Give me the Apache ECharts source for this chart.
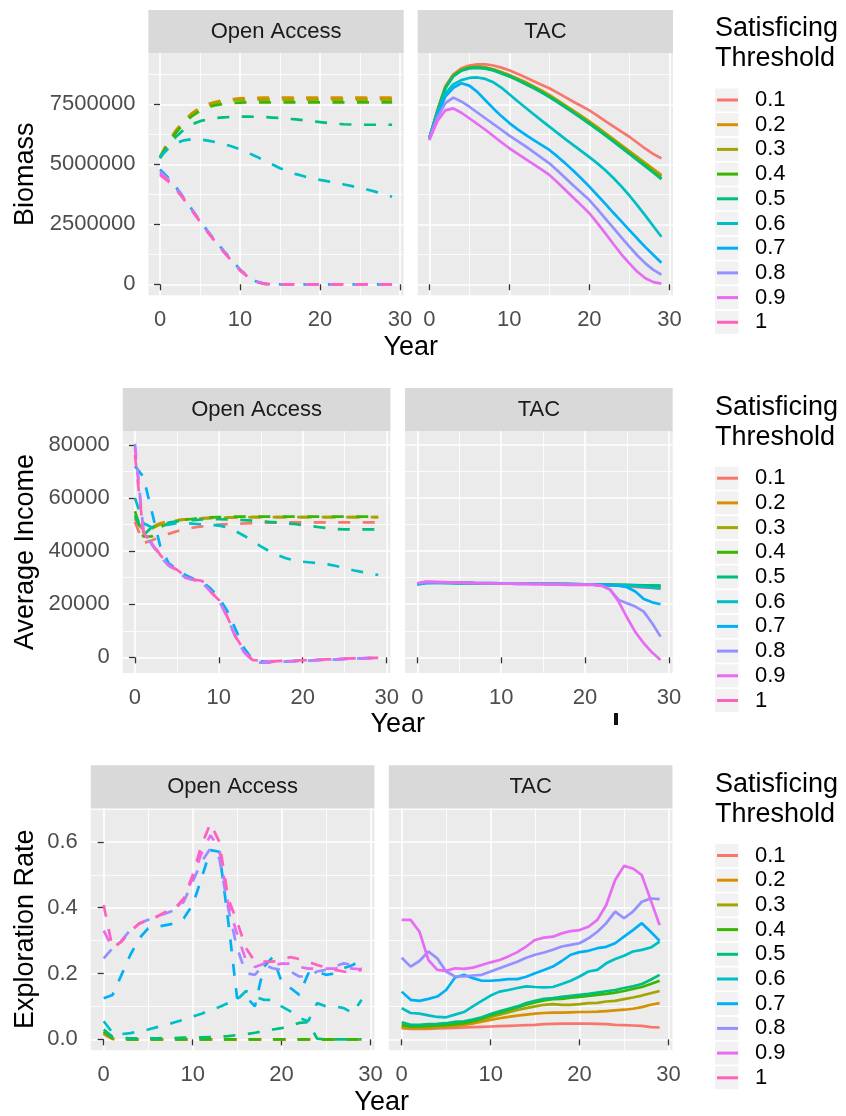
<!DOCTYPE html>
<html>
<head>
<meta charset="utf-8">
<script src="https://cdn.jsdelivr.net/npm/echarts@6/dist/echarts.min.js"></script>
<style>
html,body{margin:0;padding:0;background:#ffffff;}
#chart{width:846px;height:1116px;}
</style>
</head>
<body>
<div id="chart"></div>
<script>
// ---------------- DATA ----------------
const years = [0,1,2,3,4,5,6,7,8,9,10,11,12,13,14,15,16,17,18,19,20,21,22,23,24,25,26,27,28,29];
const thresholds = ['0.1','0.2','0.3','0.4','0.5','0.6','0.7','0.8','0.9','1'];
const facetNames = ['Open Access','TAC'];
const xTicks = [0,10,20,30];
const xMinorTicks = [5,15,25];
const biomassTicks = [0,2500000,5000000,7500000];
const biomassMinorTicks = [1250000,3750000,6250000,8750000];
const incomeTicks = [0,20000,40000,60000,80000];
const incomeMinorTicks = [10000,30000,50000,70000];
const explorationTicks = [0,0.2,0.4,0.6];
const explorationMinorTicks = [0.1,0.3,0.5,0.7];

// Biomass, Open Access (dashed), one row per threshold 0.1 .. 1
const biomassOpenAccess = [
 [5300000,5900000,6400000,6800000,7100000,7320000,7470000,7570000,7640000,7680000,7710000,7720000,7730000,7740000,7740000,7750000,7750000,7750000,7750000,7750000,7750000,7750000,7750000,7750000,7750000,7750000,7750000,7750000,7750000,7750000],
 [5320000,5920000,6420000,6820000,7130000,7360000,7510000,7610000,7680000,7720000,7750000,7760000,7770000,7780000,7780000,7780000,7780000,7780000,7780000,7780000,7780000,7780000,7780000,7780000,7780000,7780000,7780000,7780000,7780000,7780000],
 [5300000,5880000,6370000,6770000,7080000,7310000,7460000,7560000,7620000,7660000,7680000,7690000,7700000,7700000,7700000,7700000,7700000,7700000,7700000,7700000,7700000,7700000,7700000,7700000,7700000,7700000,7700000,7700000,7700000,7700000],
 [5280000,5850000,6320000,6710000,7010000,7230000,7380000,7470000,7520000,7550000,7570000,7580000,7580000,7580000,7580000,7580000,7580000,7580000,7580000,7580000,7580000,7580000,7580000,7580000,7580000,7580000,7580000,7580000,7580000,7580000],
 [5250000,5750000,6150000,6450000,6670000,6800000,6880000,6930000,6960000,6980000,6990000,6990000,6980000,6970000,6950000,6930000,6900000,6870000,6840000,6800000,6760000,6720000,6690000,6670000,6660000,6650000,6650000,6650000,6650000,6650000],
 [5300000,5650000,5880000,6000000,6050000,6040000,5990000,5920000,5840000,5740000,5620000,5480000,5330000,5170000,5000000,4840000,4700000,4590000,4500000,4420000,4350000,4290000,4230000,4160000,4090000,4020000,3940000,3850000,3750000,3650000],
 [4790000,4450000,4050000,3600000,3120000,2650000,2200000,1780000,1380000,1000000,620000,330000,120000,30000,10000,0,0,0,0,0,0,0,0,0,0,0,0,0,0,0],
 [4700000,4400000,4010000,3570000,3100000,2630000,2180000,1760000,1360000,980000,600000,310000,110000,25000,5000,0,0,0,0,0,0,0,0,0,0,0,0,0,0,0],
 [4620000,4350000,3980000,3550000,3080000,2610000,2160000,1740000,1340000,960000,590000,300000,100000,20000,0,0,0,0,0,0,0,0,0,0,0,0,0,0,0,0],
 [4560000,4300000,3950000,3530000,3070000,2600000,2150000,1730000,1330000,950000,580000,300000,100000,20000,0,0,0,0,0,0,0,0,0,0,0,0,0,0,0,0]
];
// Biomass, TAC (solid); threshold 1 not drawn in this facet
const biomassTAC = [
 [6080000,7250000,8250000,8750000,9000000,9120000,9170000,9170000,9120000,9030000,8920000,8780000,8630000,8470000,8320000,8170000,7990000,7800000,7610000,7430000,7250000,7030000,6800000,6580000,6360000,6150000,5900000,5650000,5430000,5250000],
 [6080000,7210000,8210000,8710000,8950000,9050000,9070000,9040000,8960000,8850000,8720000,8580000,8430000,8260000,8080000,7890000,7680000,7460000,7240000,7020000,6790000,6550000,6300000,6050000,5800000,5550000,5300000,5050000,4800000,4550000],
 [6080000,7200000,8200000,8700000,8940000,9040000,9060000,9030000,8950000,8840000,8710000,8560000,8410000,8240000,8060000,7860000,7650000,7430000,7210000,6990000,6760000,6520000,6270000,6020000,5770000,5520000,5270000,5020000,4770000,4500000],
 [6080000,7190000,8190000,8690000,8920000,9020000,9040000,9010000,8930000,8810000,8680000,8530000,8370000,8200000,8020000,7820000,7610000,7390000,7170000,6940000,6710000,6470000,6220000,5970000,5720000,5460000,5200000,4940000,4680000,4420000],
 [6080000,7180000,8170000,8670000,8900000,9000000,9020000,8990000,8910000,8790000,8660000,8510000,8350000,8180000,8000000,7800000,7590000,7370000,7150000,6920000,6690000,6450000,6200000,5950000,5690000,5430000,5170000,4910000,4650000,4380000],
 [6080000,7150000,7950000,8330000,8510000,8600000,8620000,8560000,8420000,8200000,7920000,7640000,7370000,7100000,6830000,6570000,6310000,6050000,5800000,5550000,5300000,5040000,4750000,4430000,4080000,3700000,3290000,2860000,2420000,1980000],
 [6080000,7060000,7820000,8190000,8380000,8280000,8020000,7670000,7330000,7010000,6720000,6470000,6240000,6020000,5810000,5600000,5330000,5040000,4730000,4410000,4070000,3710000,3350000,2980000,2620000,2260000,1900000,1550000,1220000,900000],
 [6080000,6950000,7550000,7780000,7620000,7400000,7160000,6920000,6680000,6440000,6200000,5980000,5760000,5520000,5280000,5040000,4740000,4430000,4120000,3820000,3510000,3130000,2740000,2350000,1960000,1570000,1200000,870000,600000,400000],
 [6000000,6800000,7250000,7330000,7150000,6920000,6680000,6440000,6180000,5920000,5670000,5450000,5230000,5010000,4790000,4560000,4250000,3930000,3610000,3290000,2960000,2550000,2120000,1680000,1250000,870000,520000,250000,90000,30000],
 null
];
// Average Income, Open Access (dashed)
const incomeOpenAccess = [
 [51000,43000,44000,45500,46500,47500,48200,48900,49300,49700,50000,50200,50300,50400,50500,50600,50700,50700,50800,50800,50800,50800,50800,50800,50800,50800,50800,50800,50800,50800],
 [52000,48000,49000,50500,51200,51700,52000,52200,52400,52500,52600,52700,52700,52800,52800,52800,52800,52800,52800,52800,52800,52800,52800,52800,52800,52800,52800,52800,52800,52800],
 [52500,47500,48500,50000,51000,51500,51900,52100,52300,52400,52500,52600,52700,52700,52800,52800,52800,52800,52800,52800,52800,52800,52800,52800,52800,52800,52800,52800,52800,52800],
 [55000,45500,45500,49000,50500,51300,51800,52200,52500,52700,52800,52900,53000,53000,53000,53000,53000,53000,53000,53000,53000,53000,53000,53000,53000,53000,53000,53000,53000,53000],
 [53500,46000,49000,50000,50700,51200,51500,51700,51900,52000,52000,51900,51800,51700,51500,51300,51000,50800,50500,50200,49800,49400,49000,48600,48300,48200,48200,48200,48200,48200],
 [60000,50500,49000,49500,50000,50500,50500,50300,50100,49900,49600,49000,47500,45800,43800,41800,40000,38500,37300,36500,36000,35700,35400,35000,34400,33600,32800,32200,31600,31000],
 [72000,68000,55000,42000,35500,33000,31000,29500,28500,26000,22500,17500,10500,3500,-800,-1500,-1700,-1600,-1500,-1400,-1300,-1200,-1000,-900,-800,-600,-500,-400,-300,-250],
 [80400,48000,42500,38000,34500,32500,30000,29000,28000,25000,21500,15000,7500,2000,-1500,-2000,-2000,-1800,-1600,-1400,-1300,-1200,-1000,-900,-800,-600,-500,-400,-300,-300],
 [79000,47500,43000,38300,34700,32700,30200,29100,28300,24800,21600,15200,7600,2200,-1200,-1600,-1700,-1600,-1500,-1400,-1300,-1200,-1000,-900,-800,-600,-500,-400,-300,-250],
 [76200,47000,43200,38600,34800,33000,30500,29300,28800,24700,21600,15400,7800,2700,-1000,-1300,-1500,-1400,-1300,-1200,-1100,-1000,-900,-800,-700,-500,-400,-300,-250,-200]
];
// Average Income, TAC (solid)
const incomeTAC = [
 [27700,28200,28200,28100,28100,28000,28000,27900,27900,27900,27800,27800,27800,27700,27700,27700,27600,27600,27500,27500,27400,27400,27300,27200,27000,26800,26500,26300,26100,25900],
 [27700,28200,28200,28100,28100,28000,28000,27900,27900,27900,27800,27800,27800,27700,27700,27700,27600,27600,27500,27500,27400,27400,27300,27200,27100,27000,26900,26800,26700,26600],
 [27700,28200,28200,28100,28100,28000,28000,27900,27900,27900,27800,27800,27800,27700,27700,27700,27600,27600,27500,27500,27400,27400,27300,27300,27200,27100,27000,26900,26800,26700],
 [27600,28100,28100,28100,28000,28000,28000,27900,27900,27900,27800,27800,27800,27800,27700,27700,27700,27600,27600,27500,27500,27400,27400,27300,27300,27200,27100,27000,27000,26900],
 [27600,28100,28100,28100,28000,28000,28000,27900,27900,27900,27800,27800,27800,27800,27700,27700,27700,27600,27600,27600,27500,27500,27400,27400,27300,27300,27200,27100,27100,27000],
 [27500,28000,28000,28000,28000,27900,27900,27900,27900,27800,27800,27800,27800,27700,27700,27700,27600,27600,27600,27500,27500,27400,27300,27200,27100,27000,26800,26500,26200,26000],
 [27500,27900,28000,28000,28000,27900,27900,27900,27900,27800,27800,27800,27800,27700,27700,27700,27600,27600,27600,27500,27500,27400,27300,27200,27000,26400,24800,22000,20700,20000],
 [27800,28300,28300,28200,28200,28100,28100,28000,28000,28000,27900,27900,27900,27800,27800,27800,27700,27700,27600,27600,27500,27400,27000,25400,21600,20400,19100,17200,12800,7800],
 [27900,28500,28400,28300,28200,28100,28000,27900,27800,27800,27700,27700,27600,27600,27500,27500,27400,27400,27300,27300,27300,27300,26900,25500,21000,15000,9500,5300,1800,-1000],
 null
];
// Exploration Rate, Open Access (dashed)
const explorationOpenAccess = [
 [0.015,0.001,0,0,0,0,0,0,0,0,0,0,0,0,0,0,0,0,0,0,0,0,0,0,0,0,0,0,0,0],
 [0.018,0.002,0,0,0,0,0,0,0,0,0,0,0,0,0,0,0,0,0,0,0,0,0,0,0,0,0,0,0,0],
 [0.02,0.002,0,0,0,0,0,0,0,0,0,0,0,0,0,0,0,0,0,0,0,0,0,0,0,0,0,0,0,0],
 [0.024,0.003,0.001,0,0,0,0,0,0,0,0,0,0,0,0,0,0,0,0,0,0,0,0,0,0,0,0,0,0,0],
 [0.03,0.008,0.004,0.003,0.003,0.003,0.003,0.004,0.004,0.005,0.005,0.006,0.007,0.008,0.01,0.013,0.016,0.02,0.025,0.03,0.034,0.042,0.05,0.052,0.002,0,0,0,0,0],
 [0.055,0.02,0.016,0.019,0.024,0.03,0.037,0.044,0.052,0.06,0.069,0.078,0.088,0.098,0.11,0.12,0.147,0.13,0.12,0.12,0.1,0.085,0.065,0.055,0.11,0.1,0.1,0.095,0.08,0.12],
 [0.125,0.135,0.196,0.257,0.307,0.337,0.342,0.347,0.352,0.368,0.408,0.489,0.575,0.57,0.36,0.125,0.13,0.1,0.22,0.25,0.176,0.156,0.135,0.2,0.206,0.196,0.2,0.216,0.226,0.241],
 [0.246,0.277,0.3,0.332,0.352,0.363,0.373,0.383,0.393,0.418,0.479,0.539,0.58,0.55,0.398,0.277,0.201,0.196,0.226,0.216,0.211,0.206,0.191,0.191,0.206,0.211,0.221,0.231,0.226,0.216],
 [0.33,0.277,0.298,0.33,0.352,0.363,0.373,0.386,0.396,0.423,0.49,0.565,0.62,0.58,0.41,0.32,0.24,0.22,0.23,0.225,0.23,0.23,0.22,0.215,0.215,0.215,0.215,0.22,0.215,0.213],
 [0.408,0.277,0.297,0.327,0.352,0.363,0.373,0.388,0.398,0.428,0.499,0.59,0.656,0.6,0.428,0.358,0.277,0.236,0.236,0.236,0.241,0.25,0.244,0.236,0.226,0.218,0.211,0.206,0.204,0.211]
];
// Exploration Rate, TAC (solid)
const explorationTAC = [
 [0.034,0.032,0.032,0.032,0.033,0.034,0.035,0.036,0.037,0.038,0.039,0.04,0.041,0.042,0.043,0.044,0.046,0.047,0.048,0.048,0.048,0.048,0.047,0.046,0.044,0.043,0.042,0.041,0.037,0.036],
 [0.036,0.034,0.034,0.035,0.036,0.038,0.041,0.044,0.048,0.054,0.059,0.064,0.068,0.072,0.075,0.078,0.08,0.081,0.081,0.082,0.083,0.083,0.084,0.086,0.088,0.09,0.093,0.098,0.105,0.11],
 [0.039,0.036,0.036,0.037,0.039,0.041,0.044,0.048,0.054,0.06,0.068,0.075,0.082,0.089,0.095,0.1,0.105,0.107,0.105,0.105,0.107,0.11,0.111,0.115,0.117,0.122,0.127,0.133,0.14,0.147],
 [0.044,0.039,0.039,0.041,0.042,0.044,0.046,0.049,0.055,0.063,0.073,0.081,0.089,0.097,0.105,0.112,0.118,0.122,0.123,0.127,0.129,0.132,0.135,0.138,0.142,0.147,0.153,0.159,0.168,0.178],
 [0.052,0.044,0.044,0.046,0.047,0.049,0.053,0.055,0.06,0.067,0.077,0.085,0.093,0.1,0.11,0.117,0.123,0.125,0.129,0.132,0.135,0.138,0.142,0.146,0.15,0.156,0.161,0.168,0.181,0.196],
 [0.095,0.08,0.078,0.073,0.068,0.067,0.075,0.083,0.1,0.117,0.133,0.145,0.15,0.156,0.161,0.159,0.158,0.159,0.168,0.178,0.191,0.206,0.211,0.231,0.244,0.254,0.267,0.272,0.279,0.297],
 [0.145,0.12,0.117,0.123,0.13,0.15,0.188,0.196,0.186,0.178,0.178,0.18,0.183,0.183,0.19,0.201,0.211,0.221,0.238,0.257,0.265,0.269,0.277,0.281,0.292,0.312,0.332,0.353,0.327,0.299],
 [0.248,0.221,0.238,0.267,0.246,0.206,0.191,0.191,0.194,0.196,0.206,0.216,0.226,0.236,0.248,0.257,0.264,0.272,0.282,0.287,0.292,0.307,0.327,0.353,0.388,0.368,0.388,0.418,0.428,0.426],
 [0.363,0.363,0.327,0.241,0.211,0.208,0.216,0.214,0.218,0.226,0.234,0.241,0.252,0.265,0.282,0.302,0.309,0.312,0.322,0.329,0.332,0.342,0.363,0.408,0.484,0.527,0.519,0.499,0.423,0.347],
 null
];

// ---------------- STYLE / LAYOUT ----------------
const FONT = '"Liberation Sans", Arial, Helvetica, sans-serif';
const colors = ['#F8766D','#D89000','#A3A500','#39B600','#00BF7D','#00BFC4','#00B0F6','#9590FF','#E76BF3','#FF62BC'];
const rows = [
  {title:'Biomass', oa:biomassOpenAccess, tac:biomassTAC, ticks:biomassTicks, minor:biomassMinorTicks,
   min:-459000, max:9640000, fmt:v=>String(v),
   top:53, height:242.3, left:[148.4,417.7], width:255.3, keyTop:100},
  {title:'Average Income', oa:incomeOpenAccess, tac:incomeTAC, ticks:incomeTicks, minor:incomeMinorTicks,
   min:-5910, max:85240, fmt:v=>String(v),
   top:431, height:242, left:[122.8,405.1], width:267.6, keyTop:478.2},
  {title:'Exploration Rate', oa:explorationOpenAccess, tac:explorationTAC, ticks:explorationTicks, minor:explorationMinorTicks,
   min:-0.0333, max:0.702, fmt:v=>v.toFixed(1),
   top:808.3, height:242, left:[90.8,388.8], width:283.7, keyTop:855.5}
];
const STRIP_H = 43;
const KEY_STEP = 24.7;
const LINE_W = 2.7;
const DASH = [12, 12.5];

const grids = [], xAxes = [], yAxes = [], series = [], legends = [], graphics = [];

rows.forEach((row, r) => {
  [0,1].forEach(p => {
    const g = r*2 + p;
    grids.push({left:row.left[p], top:row.top, width:row.width, height:row.height,
      show:true, backgroundColor:'#EBEBEB', borderWidth:0});
    // major x
    xAxes.push({type:'value', gridIndex:g, min:-1.45, max:30.45, position:'bottom',
      axisLine:{show:false},
      axisTick:{show:true, length:6, lineStyle:{color:'#333333', width:1.3}, customValues:xTicks},
      axisLabel:{show:true, customValues:xTicks, color:'#4D4D4D', fontSize:22, fontFamily:FONT, margin:13.5},
      splitLine:{show:true, lineStyle:{color:'#FFFFFF', width:1.6}}});
    // minor x
    xAxes.push({type:'value', gridIndex:g, min:-1.45, max:30.45, position:'top',
      axisLine:{show:false}, axisTick:{show:false, customValues:xMinorTicks}, axisLabel:{show:false},
      splitLine:{show:true, lineStyle:{color:'#FFFFFF', width:0.8}}});
    // major y
    yAxes.push({type:'value', gridIndex:g, min:row.min, max:row.max, position:'left',
      axisLine:{show:false},
      axisTick:{show:p===0, length:6, lineStyle:{color:'#333333', width:1.3}, customValues:row.ticks},
      axisLabel:{show:p===0, customValues:row.ticks, color:'#4D4D4D', fontSize:22, fontFamily:FONT, margin:13, formatter:row.fmt},
      splitLine:{show:true, lineStyle:{color:'#FFFFFF', width:1.6}}});
    // minor y
    yAxes.push({type:'value', gridIndex:g, min:row.min, max:row.max, position:'right',
      axisLine:{show:false}, axisTick:{show:false, customValues:row.minor}, axisLabel:{show:false},
      splitLine:{show:true, lineStyle:{color:'#FFFFFF', width:0.8}}});

    const src = p === 0 ? row.oa : row.tac;
    thresholds.forEach((t, k) => {
      const vals = src[k];
      if (!vals) return;
      series.push({
        type:'line', name:t, xAxisIndex:g*2, yAxisIndex:g*2,
        data: years.map((yr, i) => [yr, vals[i]]),
        symbol:'none', showSymbol:false, silent:true, animation:false,
        itemStyle:{color:colors[k]},
        lineStyle:{color:colors[k], width:LINE_W, type: p === 0 ? DASH : 'solid', cap:'butt'},
        z: 2
      });
    });

    // facet strip
    graphics.push({type:'rect', silent:true, z:1,
      shape:{x:row.left[p], y:row.top-STRIP_H, width:row.width, height:STRIP_H},
      style:{fill:'#D9D9D9'}});
    graphics.push({type:'text', silent:true, z:2,
      x:row.left[p]+row.width/2, y:row.top-STRIP_H/2,
      style:{text:facetNames[p], fill:'#1A1A1A', fontSize:22, fontFamily:FONT, align:'center', verticalAlign:'middle'}});
  });

  // y title
  graphics.push({type:'text', silent:true, x:25.5, y:row.top+row.height/2, rotation:Math.PI/2,
    style:{text:row.title, fill:'#000000', fontSize:27, fontFamily:FONT, align:'center', verticalAlign:'middle'}});
  // x title
  const xl = row.left[0], xr = row.left[1] + row.width;
  graphics.push({type:'text', silent:true, x:(xl+xr)/2, y:row.top+row.height+52,
    style:{text:'Year', fill:'#000000', fontSize:27, fontFamily:FONT, align:'center', verticalAlign:'middle'}});

  // legend title
  graphics.push({type:'text', silent:true, x:715, y:row.keyTop-56,
    style:{text:'Satisficing\nThreshold', fill:'#000000', fontSize:27, lineHeight:30, fontFamily:FONT, align:'left', verticalAlign:'middle'}});
  // legend key backgrounds
  thresholds.forEach((t, k) => {
    graphics.push({type:'rect', silent:true, z:0,
      shape:{x:715, y:row.keyTop + k*KEY_STEP - 11.5, width:23.5, height:23},
      style:{fill:'#F2F2F2'}});
  });

  legends.push({
    orient:'vertical', left:717, top:row.keyTop - KEY_STEP/2, padding:0, itemGap:0,
    itemWidth:21, itemHeight:3, icon:'rect', selectedMode:false, z:5,
    data: thresholds.map((t, k) => ({name:t, itemStyle:{color:colors[k], borderWidth:0}})),
    textStyle:{color:'#000000', fontSize:22, fontFamily:FONT, lineHeight:KEY_STEP, padding:[0,0,0,12]}
  });
});

// small stray mark visible under the income TAC facet in the reference
graphics.push({type:'rect', silent:true, shape:{x:614, y:713, width:4, height:12}, style:{fill:'#111111'}});

const chart = echarts.init(document.getElementById('chart'), null, {renderer:'canvas'});
chart.setOption({
  animation:false,
  backgroundColor:'#FFFFFF',
  textStyle:{fontFamily:FONT},
  grid:grids, xAxis:xAxes, yAxis:yAxes, series:series, legend:legends,
  graphic:{elements:graphics}
});
</script>
</body>
</html>
